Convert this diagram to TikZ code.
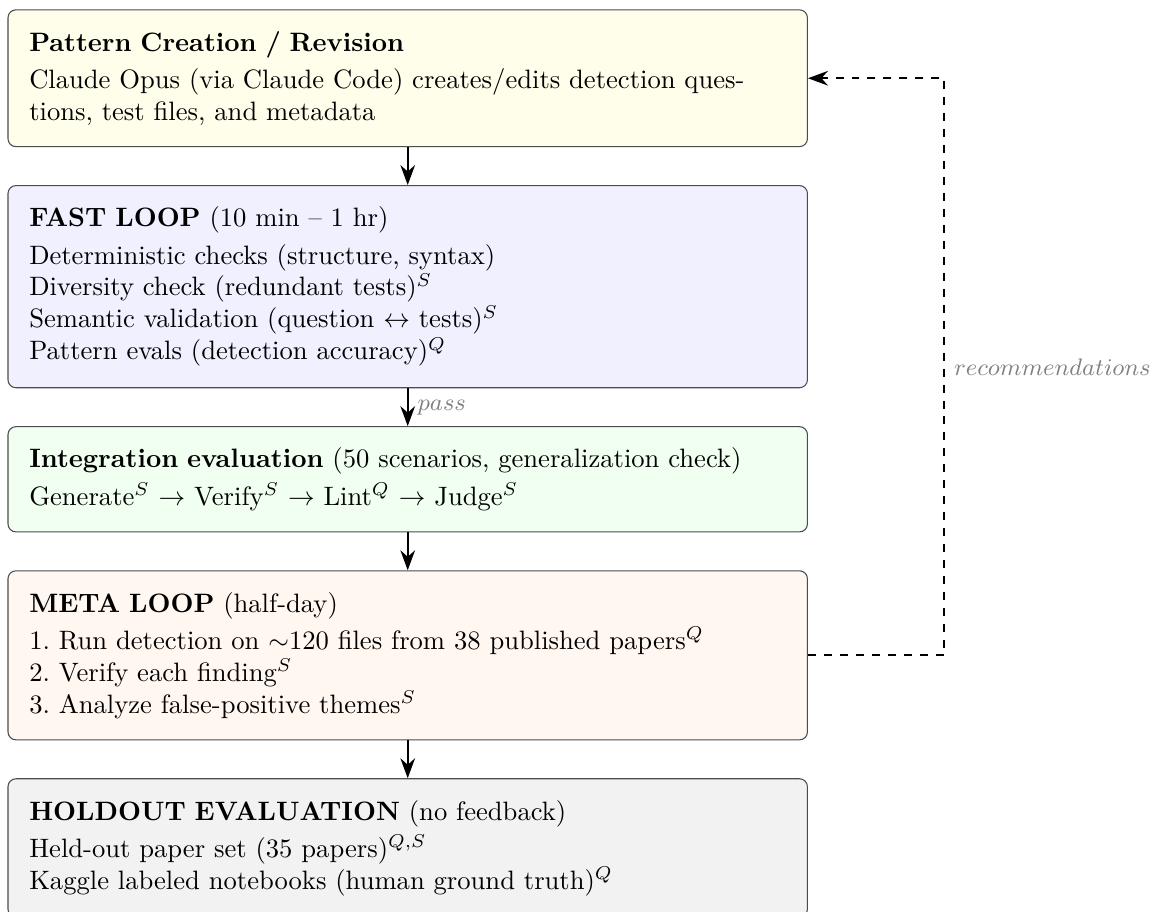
\documentclass[tikz,border=0pt]{standalone}
\usepackage{amsmath}
\usepackage{amssymb}
\usepackage{xcolor}
\usepackage{tikz}
\usetikzlibrary{positioning,arrows.meta}

\tikzset{
  stage/.style={draw=black!70, rounded corners=3pt, align=left, text width=10cm, inner sep=8pt},
  flow/.style={->, thick},
  feedback/.style={->, thick, dashed},
  note/.style={font=\small, text=gray},
}

\begin{document}
\begin{tikzpicture}[>={Stealth[length=7.5pt,width=5.5pt]}, node distance=5mm]
    \useasboundingbox (-2.8pt,3.5pt) rectangle (431pt,-339pt);
    \node[stage, fill=yellow!8, anchor=north west] (create) at (0,0) {\textbf{Pattern Creation / Revision}\\[2pt]
        Claude Opus (via Claude Code) creates/edits detection questions, test files, and metadata};
    \node[stage, fill=blue!6, below=of create] (fast) {\textbf{FAST LOOP} (10 min -- 1 hr)\\[2pt]
        Deterministic checks (structure, syntax)\\
        Diversity check (redundant tests)$^S$\\
        Semantic validation (question $\leftrightarrow$ tests)$^S$\\
        Pattern evals (detection accuracy)$^Q$};
    \node[stage, fill=green!6, below=of fast] (integ) {\textbf{Integration evaluation} (50 scenarios, generalization check)\\[2pt]
        Generate$^S$ $\rightarrow$ Verify$^S$ $\rightarrow$ Lint$^Q$ $\rightarrow$ Judge$^S$};
    \node[stage, fill=orange!6, below=of integ] (meta) {\textbf{META LOOP} (half-day)\\[2pt]
        1.\ Run detection on $\sim$120 files from 38 published papers$^Q$\\
        2.\ Verify each finding$^S$\\
        3.\ Analyze false-positive themes$^S$};
    \node[stage, fill=gray!10, below=of meta] (holdout) {\textbf{HOLDOUT EVALUATION} (no feedback)\\[2pt]
        Held-out paper set (35 papers)$^{Q,S}$\\
        Kaggle labeled notebooks (human ground truth)$^Q$};
    \draw[flow] (create)--(fast);
    \draw[flow] (fast)--(integ) node[midway, right, note] {$pass$};
    \draw[flow] (integ)--(meta);
    \draw[flow] (meta)--(holdout);
    \draw[feedback] (meta.east) -- ++(1.8cm,0) |- (create.east)
        node[pos=0.25, right, note] {$recommendations$};
\end{tikzpicture}
\end{document}
